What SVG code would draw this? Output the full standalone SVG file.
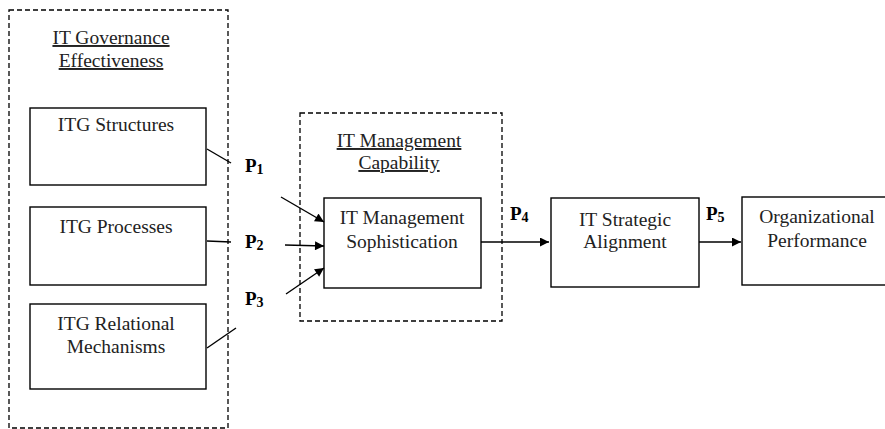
<svg xmlns="http://www.w3.org/2000/svg" width="885" height="429" viewBox="0 0 885 429">
  <defs>
    <marker id="arrow" viewBox="0 0 10 10" refX="10" refY="5" markerWidth="10" markerHeight="9" markerUnits="userSpaceOnUse" orient="auto">
      <path d="M0,0 L10,5 L0,10 z" fill="#000"/>
    </marker>
    <style>
      .box { fill: #fff; stroke: #000; stroke-width: 1.4; }
      .group { fill: none; stroke: #000; stroke-width: 1.3; stroke-dasharray: 5 3; }
      .lbl { font-family: "Liberation Serif", "Times New Roman", serif; font-size: 19.5px; fill: #222; text-anchor: middle; }
      .title { text-decoration: underline; }
      .p { font-family: "Liberation Serif", "Times New Roman", serif; font-size: 19px; font-weight: bold; fill: #000; }
      .sub { font-size: 14px; }
      .link { stroke: #000; stroke-width: 1.4; fill: none; }
    </style>
  </defs>
  <rect width="885" height="429" fill="#fff"/>

  <!-- construct groupings -->
  <g id="itg-effectiveness">
    <rect class="group" x="9" y="10" width="219" height="418"/>
    <text class="lbl title" x="111" y="44">IT Governance</text>
    <text class="lbl title" x="111" y="67">Effectiveness</text>
  </g>
  <g id="itm-capability">
    <rect class="group" x="300" y="113" width="202" height="208"/>
    <text class="lbl title" x="399" y="147">IT Management</text>
    <text class="lbl title" x="399" y="169">Capability</text>
  </g>

  <!-- nodes -->
  <g id="itg-structures">
    <rect class="box" x="30" y="108" width="176" height="77"/>
    <text class="lbl" x="116" y="131">ITG Structures</text>
  </g>
  <g id="itg-processes">
    <rect class="box" x="30" y="207" width="176" height="78"/>
    <text class="lbl" x="116" y="233">ITG Processes</text>
  </g>
  <g id="itg-relational">
    <rect class="box" x="30" y="304" width="176" height="85"/>
    <text class="lbl" x="116" y="330">ITG Relational</text>
    <text class="lbl" x="116" y="353">Mechanisms</text>
  </g>
  <g id="itm-sophistication">
    <rect class="box" x="324" y="198" width="157" height="90"/>
    <text class="lbl" x="402" y="224">IT Management</text>
    <text class="lbl" x="402" y="248">Sophistication</text>
  </g>
  <g id="it-alignment">
    <rect class="box" x="551" y="198" width="148" height="89"/>
    <text class="lbl" x="625" y="226">IT Strategic</text>
    <text class="lbl" x="625" y="248">Alignment</text>
  </g>
  <g id="org-performance">
    <rect class="box" x="742" y="197" width="150" height="88"/>
    <text class="lbl" x="817" y="223">Organizational</text>
    <text class="lbl" x="817" y="247">Performance</text>
  </g>

  <!-- connectors -->
  <g id="connectors">
    <line class="link" x1="207" y1="149" x2="231" y2="163"/>
    <line class="link" x1="207" y1="241" x2="231" y2="242"/>
    <line class="link" x1="207" y1="348" x2="236" y2="328"/>
    <line class="link" x1="281" y1="197" x2="324" y2="222" marker-end="url(#arrow)"/>
    <line class="link" x1="285" y1="245" x2="324" y2="246" marker-end="url(#arrow)"/>
    <line class="link" x1="286" y1="294" x2="324" y2="268" marker-end="url(#arrow)"/>
    <line class="link" x1="481" y1="242" x2="549" y2="242" marker-end="url(#arrow)"/>
    <line class="link" x1="699" y1="242" x2="741" y2="242" marker-end="url(#arrow)"/>

    <text class="p" x="245" y="172">P<tspan class="sub" dy="2">1</tspan></text>
    <text class="p" x="245" y="248">P<tspan class="sub" dy="2">2</tspan></text>
    <text class="p" x="245" y="305">P<tspan class="sub" dy="2">3</tspan></text>
    <text class="p" x="510" y="220">P<tspan class="sub" dy="2">4</tspan></text>
    <text class="p" x="706" y="220">P<tspan class="sub" dy="2">5</tspan></text>
  </g>
</svg>
